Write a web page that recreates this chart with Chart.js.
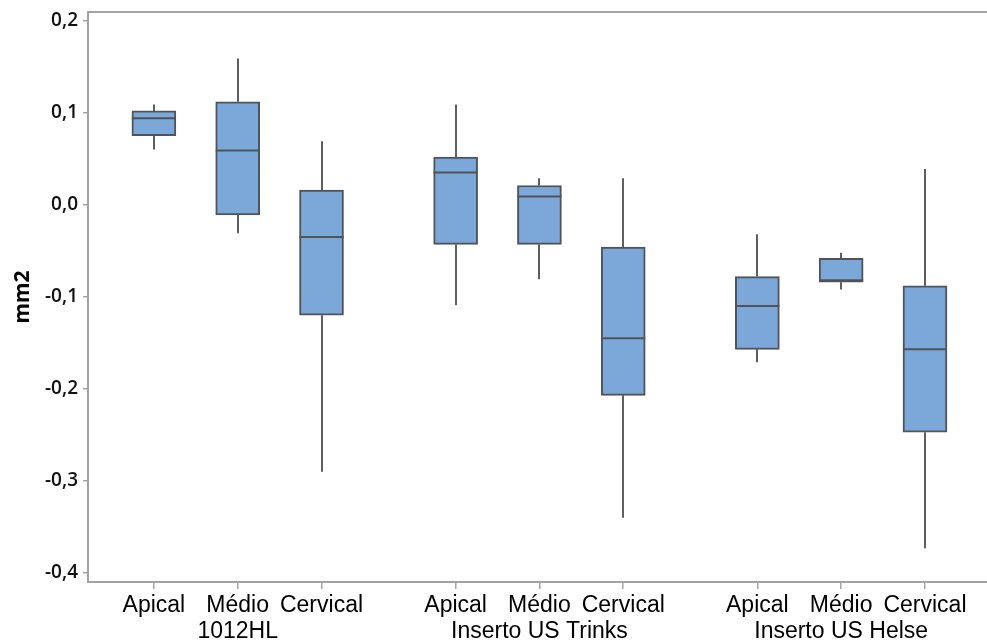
<!DOCTYPE html>
<html lang="pt">
  <head>
    <meta charset="UTF-8" />
    <title>mm2 - boxplot</title>
    <style>
      html, body { margin: 0; padding: 0; background: #fff; }
      .wrap { position: relative; width: 987px; height: 644px; }
    </style>
  </head>
  <body>
    <div class="wrap"><canvas id="chart-1"></canvas></div>
    <script src="https://cdn.jsdelivr.net/npm/chart.js"></script>
    <script>
      const groups = ["1012HL", "Inserto US Trinks", "Inserto US Helse"];
      const regions = ["Apical", "Médio", "Cervical"];
      // x position of each box (3 boxes per group, wider gap between groups)
      const positions = [0, 1, 2, 3.6, 4.6, 5.6, 7.2, 8.2, 9.2];

      const whiskerLow = [0.060, -0.031, -0.290, -0.109, -0.081, -0.340, -0.171, -0.092, -0.373];
      const q1 = [0.075, -0.011, -0.120, -0.043, -0.043, -0.207, -0.157, -0.084, -0.247];
      const median = [0.094, 0.059, -0.035, 0.035, 0.009, -0.145, -0.110, -0.082, -0.157];
      const q3 = [0.102, 0.112, 0.016, 0.052, 0.021, -0.046, -0.078, -0.058, -0.088];
      const whiskerHigh = [0.109, 0.159, 0.069, 0.109, 0.029, 0.029, -0.032, -0.052, 0.039];

      const yTicks = [-0.4, -0.3, -0.2, -0.1, 0, 0.1, 0.2];

      const axisColor = "#a3a3a3";
      const lineColor = "#505459";

      const boxPlot = {
        id: "boxPlot",
        beforeDatasetsDraw(chart) {
          const { ctx, scales } = chart;
          ctx.save();
          ctx.strokeStyle = "#5e5e5e";
          ctx.lineWidth = 2;
          positions.forEach((p, i) => {
            const x = Math.round(scales.x.getPixelForValue(p));
            ctx.beginPath();
            ctx.moveTo(x, scales.y.getPixelForValue(whiskerLow[i]));
            ctx.lineTo(x, scales.y.getPixelForValue(q1[i]));
            ctx.moveTo(x, scales.y.getPixelForValue(q3[i]));
            ctx.lineTo(x, scales.y.getPixelForValue(whiskerHigh[i]));
            ctx.stroke();
          });
          ctx.restore();
        },
        afterDatasetsDraw(chart) {
          const { ctx, scales } = chart;
          const bars = chart.getDatasetMeta(0).data;
          ctx.save();
          ctx.strokeStyle = lineColor;
          ctx.lineWidth = 2;
          positions.forEach((p, i) => {
            const x = scales.x.getPixelForValue(p);
            const half = bars[i].width / 2;
            const y = scales.y.getPixelForValue(median[i]);
            ctx.beginPath();
            ctx.moveTo(x - half, y);
            ctx.lineTo(x + half, y);
            ctx.stroke();
          });
          // top frame line
          const a = chart.chartArea;
          ctx.strokeStyle = axisColor;
          ctx.beginPath();
          ctx.moveTo(a.left, a.top);
          ctx.lineTo(a.right, a.top);
          ctx.stroke();
          ctx.restore();
        },
      };

      new Chart(document.getElementById("chart-1"), {
        type: "bar",
        data: {
          datasets: [
            {
              data: positions.map((p, i) => ({ x: p, y: [q1[i], q3[i]] })),
              backgroundColor: "#7ca7d9",
              borderColor: lineColor,
              borderWidth: 2,
              borderSkipped: false,
              barThickness: 44,
            },
          ],
        },
        options: {
          responsive: true,
          maintainAspectRatio: false,
          animation: false,
          layout: { padding: { top: 12, right: 0, left: 0, bottom: 0 } },
          plugins: { legend: { display: false }, tooltip: { enabled: false } },
          scales: {
            x: {
              type: "linear",
              min: -0.786,
              max: 9.94,
              offset: false,
              afterBuildTicks: (scale) => {
                scale.ticks = positions.map((v) => ({ value: v }));
              },
              afterFit: (scale) => {
                scale.height = 62;
                scale.paddingLeft = 0;
                scale.paddingRight = 0;
              },
              ticks: {
                autoSkip: false,
                maxRotation: 0,
                color: "#000",
                padding: 4,
                font: { family: "'Liberation Sans', Arial, sans-serif", size: 23, lineHeight: 1.13 },
                callback: (value, index) => {
                  const r = regions[index % 3];
                  if (index % 3 === 1) return [r, groups[Math.floor(index / 3)]];
                  return r;
                },
              },
              grid: { drawOnChartArea: false, drawTicks: true, tickLength: 7, color: axisColor, lineWidth: 1.5, offset: false },
              border: { color: axisColor, width: 2 },
            },
            y: {
              min: -0.4098,
              max: 0.2095,
              afterBuildTicks: (scale) => {
                scale.ticks = yTicks.map((v) => ({ value: v }));
              },
              afterFit: (scale) => {
                scale.width = 88;
                scale.paddingTop = 0;
                scale.paddingBottom = 0;
              },
              ticks: {
                color: "#111",
                padding: 5,
                font: { family: "'Open Sans', 'Noto Sans', sans-serif", size: 19, weight: "600" },
                callback: (v) => v.toFixed(1).replace(".", ","),
              },
              grid: { drawOnChartArea: false, drawTicks: true, tickLength: 5, color: axisColor, lineWidth: 1.5 },
              border: { color: axisColor, width: 2 },
              title: {
                display: true,
                text: "mm2",
                color: "#000",
                padding: { top: 10, bottom: 0 },
                font: { family: "'Noto Sans', sans-serif", size: 21, weight: "bold", lineHeight: 1.2 },
              },
            },
          },
        },
        plugins: [boxPlot],
      });
    </script>
  </body>
</html>
